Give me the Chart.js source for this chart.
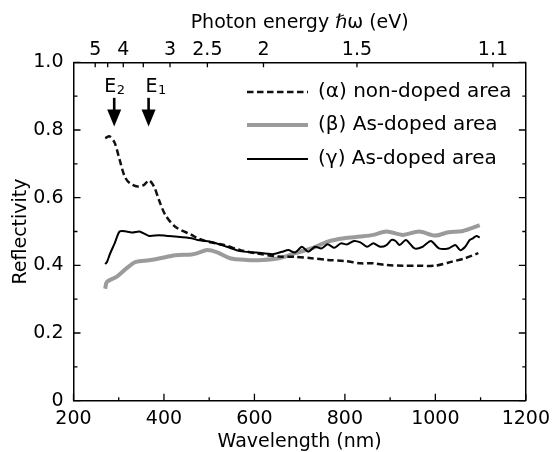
<!DOCTYPE html>
<html>
<head>
<meta charset="utf-8">
<script src="https://cdn.jsdelivr.net/npm/chart.js@4.4.0/dist/chart.umd.min.js"></script>
<style>
  body { margin: 0; background: #fff; }
</style>
</head>
<body>
<canvas id="grafica" width="557" height="452"></canvas>
<script>
// (α) non-doped area
const alphaWl = [270, 280, 291, 302, 313, 324, 342, 356, 367, 378, 389, 403, 425, 461, 474, 497, 533, 569, 605, 654, 690, 726, 762, 798, 835, 863, 892, 928, 964, 1000, 1037, 1066, 1095];
const alphaR  = [0.776, 0.781, 0.762, 0.712, 0.663, 0.643, 0.633, 0.638, 0.651, 0.633, 0.593, 0.549, 0.514, 0.490, 0.480, 0.470, 0.460, 0.445, 0.435, 0.426, 0.425, 0.421, 0.416, 0.413, 0.406, 0.406, 0.401, 0.399, 0.399, 0.399, 0.411, 0.421, 0.436];

// (β) As-doped area
const betaWl = [270, 274, 295, 317, 338, 367, 389, 425, 461, 474, 496, 518, 546, 582, 618, 654, 690, 726, 762, 798, 834, 863, 892, 928, 964, 1000, 1029, 1058, 1080, 1098];
const betaR  = [0.331, 0.351, 0.366, 0.391, 0.410, 0.415, 0.420, 0.430, 0.432, 0.436, 0.445, 0.438, 0.421, 0.416, 0.416, 0.421, 0.436, 0.450, 0.470, 0.480, 0.485, 0.490, 0.500, 0.490, 0.500, 0.488, 0.498, 0.501, 0.510, 0.519];

// (γ) As-doped area
const gammaWl = [270, 274, 281, 291, 302, 317, 331, 346, 367, 389, 425, 461, 474, 503, 539, 568, 604, 640, 661, 675, 690, 705, 719, 734, 748, 762, 777, 791, 805, 820, 834, 849, 863, 878, 892, 903, 912, 921, 935, 954, 972, 990, 1008, 1029, 1044, 1055, 1066, 1076, 1083, 1091, 1098];
const gammaR  = [0.404, 0.410, 0.435, 0.465, 0.500, 0.500, 0.497, 0.500, 0.487, 0.489, 0.485, 0.480, 0.475, 0.470, 0.455, 0.442, 0.438, 0.433, 0.440, 0.445, 0.438, 0.455, 0.440, 0.455, 0.450, 0.462, 0.452, 0.465, 0.462, 0.472, 0.468, 0.455, 0.465, 0.455, 0.460, 0.475, 0.472, 0.460, 0.475, 0.450, 0.455, 0.472, 0.450, 0.450, 0.460, 0.445, 0.455, 0.475, 0.480, 0.487, 0.482];

const seriesNames = ['(\u03b1) non-doped area', '(\u03b2) As-doped area', '(\u03b3) As-doped area'];

// ticks
const wlMajor = [200, 400, 600, 800, 1000, 1200];
const wlMinor = [300, 500, 700, 900, 1100];
const rMajor = [0, 0.2, 0.4, 0.6, 0.8, 1.0];
const rMinor = [0.1, 0.3, 0.5, 0.7, 0.9];
const energyTicks = [5, 4.5, 4, 3.5, 3, 2.5, 2, 1.5, 1.1];
const energyLabels = [5, 4, 3, 2.5, 2, 1.5, 1.1];

// critical points
const peakWl = [290, 366];
const peakSub = ['2', '1'];

const fuente = "'DejaVu Sans', sans-serif";
Chart.defaults.font.family = fuente;
Chart.defaults.color = '#000';

const puntos = (xs, ys) => xs.map((x, i) => ({ x: x, y: ys[i] }));

// inward tick marks on all four sides
const marcas = {
  id: 'marcas',
  afterDraw(chart) {
    const { ctx, chartArea: a, scales } = chart;
    ctx.save();
    ctx.strokeStyle = '#000';
    ctx.lineWidth = 1.3;
    ctx.beginPath();
    const raya = (x1, y1, x2, y2) => { ctx.moveTo(x1, y1); ctx.lineTo(x2, y2); };
    wlMajor.forEach(v => { const x = scales.x.getPixelForValue(v); raya(x, a.bottom, x, a.bottom - 7); });
    wlMinor.forEach(v => { const x = scales.x.getPixelForValue(v); raya(x, a.bottom, x, a.bottom - 3.5); });
    rMajor.forEach(v => {
      const y = scales.y.getPixelForValue(v);
      raya(a.left, y, a.left + 7, y);
      raya(a.right, y, a.right - 7, y);
    });
    rMinor.forEach(v => {
      const y = scales.y.getPixelForValue(v);
      raya(a.left, y, a.left + 4, y);
      raya(a.right, y, a.right - 3.5, y);
    });
    scales.x2.ticks.forEach(t => {
      const x = scales.x2.getPixelForValue(t.value);
      raya(x, a.top, x, a.top + 5);
    });
    ctx.stroke();
    ctx.restore();
  }
};

// legend inside the plot, upper right
const leyenda = {
  id: 'leyenda',
  afterDatasetsDraw(chart) {
    const { ctx } = chart;
    const filas = [92, 125, 159];
    ctx.save();
    ctx.font = '20px ' + fuente;
    ctx.textBaseline = 'middle';
    ctx.textAlign = 'left';
    ctx.fillStyle = '#000';
    chart.data.datasets.forEach((ds, i) => {
      const y = filas[i];
      ctx.save();
      ctx.strokeStyle = ds.borderColor;
      ctx.lineWidth = ds.borderWidth;
      ctx.setLineDash(ds.borderDash || []);
      ctx.beginPath();
      ctx.moveTo(247, y);
      ctx.lineTo(308, y);
      ctx.stroke();
      ctx.restore();
      ctx.fillText(seriesNames[i], 318, y);
    });
    ctx.restore();
  }
};

// E2 / E1 arrows
const flechas = {
  id: 'flechas',
  afterDatasetsDraw(chart) {
    const { ctx, scales } = chart;
    const dx = [-10, -3];
    ctx.save();
    ctx.fillStyle = '#000';
    ctx.strokeStyle = '#000';
    peakWl.forEach((wl, i) => {
      const x = scales.x.getPixelForValue(wl);
      const yTop = scales.y.getPixelForValue(0.895);
      const yTip = scales.y.getPixelForValue(0.81);
      ctx.lineWidth = 2.6;
      ctx.beginPath();
      ctx.moveTo(x, yTop);
      ctx.lineTo(x, yTip - 14);
      ctx.stroke();
      ctx.beginPath();
      ctx.moveTo(x - 7, yTip - 17);
      ctx.lineTo(x + 7, yTip - 17);
      ctx.lineTo(x, yTip);
      ctx.closePath();
      ctx.fill();
      const yBase = scales.y.getPixelForValue(0.912);
      ctx.textBaseline = 'alphabetic';
      ctx.textAlign = 'left';
      ctx.font = '19px ' + fuente;
      const x0 = x + dx[i];
      ctx.fillText('E', x0, yBase);
      const w = ctx.measureText('E').width;
      ctx.font = '13px ' + fuente;
      ctx.fillText(peakSub[i], x0 + w + 0.5, yBase + 2);
    });
    ctx.restore();
  }
};

new Chart(document.getElementById('grafica'), {
  type: 'line',
  data: {
    datasets: [
      {
        label: seriesNames[0],
        data: puntos(alphaWl, alphaR),
        borderColor: '#111',
        borderWidth: 2.5,
        borderDash: [6.5, 3.5],
        pointRadius: 0,
        tension: 0.3,
        order: 2
      },
      {
        label: seriesNames[1],
        data: puntos(betaWl, betaR),
        borderColor: '#9b9b9b',
        borderWidth: 4,
        pointRadius: 0,
        tension: 0.3,
        order: 3
      },
      {
        label: seriesNames[2],
        data: puntos(gammaWl, gammaR),
        borderColor: '#000',
        borderWidth: 2,
        pointRadius: 0,
        tension: 0.25,
        order: 1
      }
    ]
  },
  options: {
    responsive: false,
    animation: false,
    devicePixelRatio: 1,
    layout: { padding: 0, autoPadding: false },
    plugins: {
      legend: { display: false },
      tooltip: { enabled: false }
    },
    scales: {
      x: {
        type: 'linear',
        position: 'bottom',
        min: 200,
        max: 1200,
        afterFit: s => { s.height = 51.3; },
        ticks: { stepSize: 200, font: { size: 19 }, padding: 7, maxRotation: 0, callback: v => String(v) },
        grid: { drawOnChartArea: false, drawTicks: false },
        border: { color: '#000', width: 1.5 },
        title: { display: true, text: 'Wavelength (nm)', font: { size: 19, lineHeight: 1 }, padding: { top: 0, bottom: 0 } }
      },
      x2: {
        type: 'linear',
        position: 'top',
        min: 200,
        max: 1200,
        afterFit: s => { s.height = 62.3; },
        afterBuildTicks: s => { s.ticks = energyTicks.map(e => ({ value: 1240 / e })); },
        ticks: {
          autoSkip: false,
          maxRotation: 0,
          font: { size: 19 },
          padding: 1,
          callback: v => {
            const e = Math.round(1240 / v * 10) / 10;
            return energyLabels.includes(e) ? String(e) : '';
          }
        },
        grid: { drawOnChartArea: false, drawTicks: false },
        border: { color: '#000', width: 1.5 },
        title: { display: true, text: 'Photon energy \u210f\u03c9 (eV)', font: { size: 19, lineHeight: 1 }, padding: { top: 14, bottom: 0 } }
      },
      y: {
        type: 'linear',
        position: 'left',
        min: 0,
        max: 1,
        afterFit: s => { s.width = 73.5; },
        ticks: {
          stepSize: 0.2,
          font: { size: 19 },
          padding: 10,
          callback: v => (v === 0 ? '0' : v.toFixed(1))
        },
        grid: { drawOnChartArea: false, drawTicks: false },
        border: { color: '#000', width: 1.5 },
        title: { display: true, text: 'Reflectivity', font: { size: 19, lineHeight: 1 }, padding: { top: 12, bottom: 0 } }
      },
      y2: {
        type: 'linear',
        position: 'right',
        min: 0,
        max: 1,
        afterFit: s => { s.width = 21.5; },
        ticks: { display: false },
        grid: { drawOnChartArea: false, drawTicks: false },
        border: { color: '#000', width: 1.5 }
      }
    }
  },
  plugins: [marcas, leyenda, flechas]
});
</script>
</body>
</html>
